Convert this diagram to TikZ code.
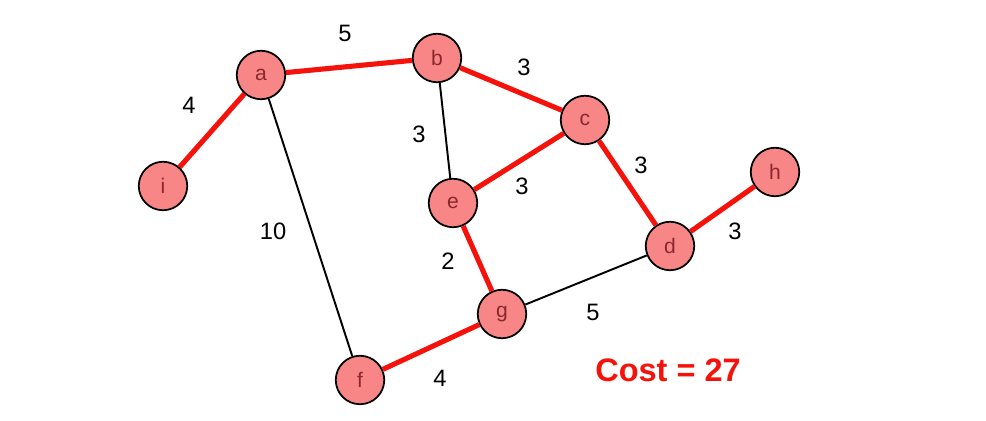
\documentclass[tikz,border=0pt]{standalone}
\usepackage{fontspec}
\setmainfont{Liberation Sans}
\definecolor{edgered}{RGB}{245,18,10}
\definecolor{nodefill}{RGB}{248,134,134}
\definecolor{letter}{RGB}{140,40,45}
\begin{document}
\begin{tikzpicture}[x=0.02cm,y=-0.02cm,
  vertex/.style={circle,draw=black,fill=nodefill,line width=1pt,minimum size=0.97cm,inner sep=0pt,text=letter,font=\fontsize{12}{14}\selectfont},
  tree/.style={draw=edgered,line width=2.9pt},
  other/.style={draw=black,line width=1.1pt},
  wlabel/.style={font=\fontsize{13.5}{16}\selectfont,text=black}]
\useasboundingbox (0,0) rectangle (986,421);
\node[vertex] (a) at (261,75) {a};
\node[vertex] (b) at (437,58) {b};
\node[vertex] (c) at (585,120) {c};
\node[vertex] (e) at (453,203) {e};
\node[vertex] (i) at (163,186) {i};
\node[vertex] (h) at (775,172) {h};
\node[vertex] (d) at (670,246) {d};
\node[vertex] (g) at (502,314) {g};
\node[vertex] (f) at (360,380) {f};
\draw[other] (a) -- (f);
\draw[other] (b) -- (e);
\draw[other] (g) -- (d);
\draw[tree] (i) -- (a);
\draw[tree] (a) -- (b);
\draw[tree] (b) -- (c);
\draw[tree] (c) -- (e);
\draw[tree] (c) -- (d);
\draw[tree] (d) -- (h);
\draw[tree] (e) -- (g);
\draw[tree] (g) -- (f);
\node[wlabel] (l1) at (345,33) {5};
\node[wlabel] (l2) at (524,67) {3};
\node[wlabel] (l3) at (189,105) {4};
\node[wlabel] (l4) at (419,134) {3};
\node[wlabel] (l5) at (641,165) {3};
\node[wlabel] (l6) at (522,186) {3};
\node[wlabel] (l7) at (273,231) {10};
\node[wlabel] (l8) at (448,261) {2};
\node[wlabel] (l9) at (735,231) {3};
\node[wlabel] (l10) at (593,312) {5};
\node[wlabel] (l11) at (440,378) {4};
\node[font=\fontsize{18.5}{21}\bfseries\selectfont,text=edgered] (cost) at (668,370) {Cost = 27};
\end{tikzpicture}
\end{document}
